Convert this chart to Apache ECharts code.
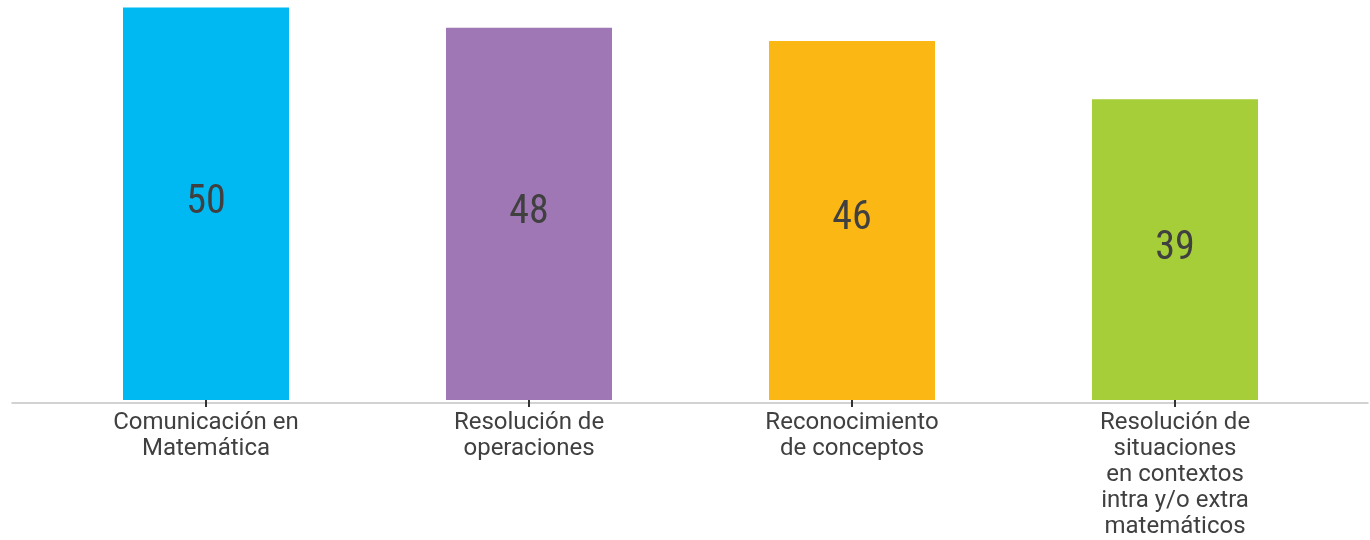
<!DOCTYPE html>
<html>
<head>
<meta charset="utf-8">
<script src="https://cdn.jsdelivr.net/npm/echarts@6/dist/echarts.min.js"></script>
<style>
html,body{margin:0;padding:0;background:#fff;}
#c{width:1370px;height:540px;}
</style>
</head>
<body>
<div id="c"></div>
<script>
const categories = [
  'Comunicación en\nMatemática',
  'Resolución de\noperaciones',
  'Reconocimiento\nde conceptos',
  'Resolución de\nsituaciones\nen contextos\nintra y/o extra\nmatemáticos'
];
const values = [50.4, 47.8, 46.1, 38.6];
const colors = ['#00B9F2', '#A077B5', '#FBB714', '#A6CE39'];

const chart = echarts.init(document.getElementById('c'));
chart.setOption({
  animation: false,
  grid: [
    {left: 44.5, right: 33.5, top: 7, bottom: 139},
    {left: 12, right: 2, top: 7, bottom: 137}
  ],
  xAxis: [
    {
      type: 'category',
      gridIndex: 0,
      data: categories,
      offset: 2,
      axisLine: {show: false},
      axisTick: {show: true, alignWithLabel: true, length: 7, lineStyle: {color: '#333', width: 2}},
      axisLabel: {
        color: '#404040',
        fontFamily: 'Roboto, sans-serif',
        fontSize: 24,
        lineHeight: 26,
        margin: 8,
        interval: 0
      }
    },
    {
      type: 'value',
      gridIndex: 1,
      min: 0, max: 1,
      axisLine: {show: true, onZero: false, lineStyle: {color: '#c4c4c4', width: 1.5}},
      axisTick: {show: false},
      axisLabel: {show: false},
      splitLine: {show: false}
    }
  ],
  yAxis: [
    {type: 'value', gridIndex: 0, min: 0, max: 50.45, show: false, splitLine: {show: false}},
    {type: 'value', gridIndex: 1, min: 0, max: 1, show: false, splitLine: {show: false}}
  ],
  series: [{
    type: 'bar',
    xAxisIndex: 0,
    yAxisIndex: 0,
    barWidth: 166,
    data: values.map((v, i) => ({value: v, itemStyle: {color: colors[i]}})),
    label: {
      show: true,
      position: 'inside',
      offset: [0, -1],
      formatter: p => Math.round(p.value),
      color: '#404040',
      fontFamily: '"Liberation Sans Narrow", "Roboto Condensed", "DejaVu Sans Condensed", sans-serif',
      fontSize: 40
    }
  }]
});
</script>
</body>
</html>
